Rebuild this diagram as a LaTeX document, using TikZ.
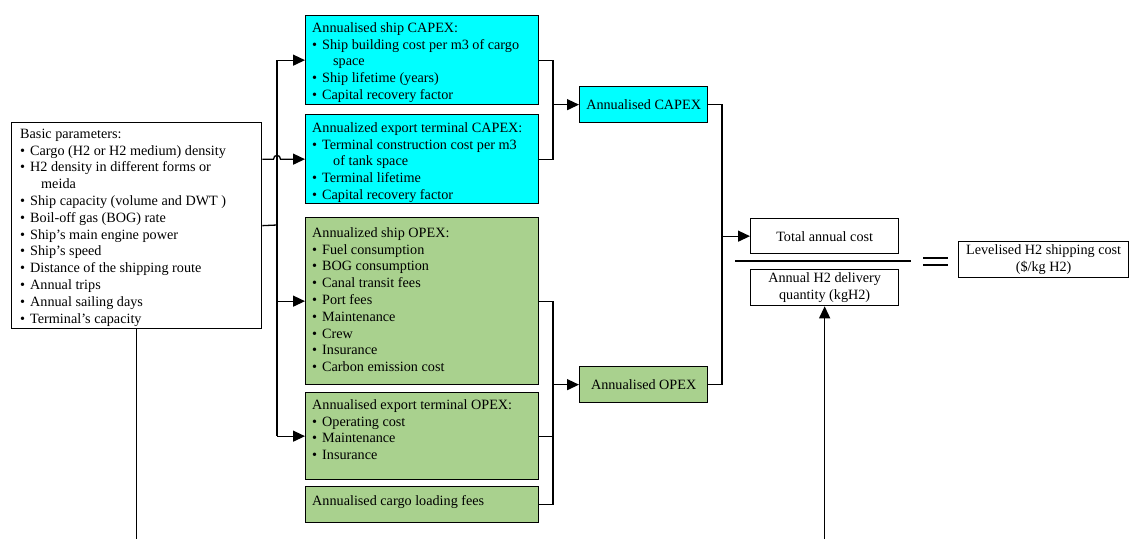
\documentclass[tikz,border=0pt]{standalone}
\usepackage{fontspec}
\setmainfont{Liberation Serif}
\usetikzlibrary{arrows.meta}
\definecolor{capexcol}{RGB}{0,255,255}
\definecolor{opexcol}{RGB}{169,209,142}
\newcommand{\bl}{\makebox[10pt][l]{•}}
\newcommand{\cnt}{\hspace*{21pt}}
\newcommand{\fst}{\rule{0pt}{13pt}}
\begin{document}
\begin{tikzpicture}[x=1pt,y=-1pt,
  box/.style={draw=black, line width=1.3pt, anchor=north west, inner sep=0pt},
  txt/.style={anchor=north west, inner sep=0pt, align=left, font=\fontsize{14.2}{16.8}\selectfont},
  cbox/.style={box, align=center, font=\fontsize{14.2}{16.8}\selectfont},
  conn/.style={line width=1.3pt},
  arr/.style={conn, -{Triangle[length=12pt,width=11pt]}}]
\useasboundingbox (0,0) rectangle (1129,539);

% boxes
\node[box, minimum width=250pt, minimum height=206pt] (basic) at (11,122) {};
\node[txt] (basict) at (20,125) {\fst Basic parameters:\\
\bl Cargo (H2 or H2 medium) density\\
\bl H2 density in different forms or\\
\cnt meida\\
\bl Ship capacity (volume and DWT )\\
\bl Boil-off gas (BOG) rate\\
\bl Ship’s main engine power\\
\bl Ship’s speed\\
\bl Distance of the shipping route\\
\bl Annual trips\\
\bl Annual sailing days\\
\bl Terminal’s capacity};

\node[box, fill=capexcol, minimum width=233pt, minimum height=89pt] (shipcapex) at (305,15) {};
\node[txt] (shipcapext) at (312,19) {\fst Annualised ship CAPEX:\\
\bl Ship building cost per m3 of cargo\\
\cnt space\\
\bl Ship lifetime (years)\\
\bl Capital recovery factor};

\node[box, fill=capexcol, minimum width=233pt, minimum height=89pt] (termcapex) at (305,114) {};
\node[txt] (termcapext) at (312,119) {\fst Annualized export terminal CAPEX:\\
\bl Terminal construction cost per m3\\
\cnt of tank space\\
\bl Terminal lifetime\\
\bl Capital recovery factor};

\node[box, fill=opexcol, minimum width=233pt, minimum height=167pt] (shipopex) at (305,217) {};
\node[txt] (shipopext) at (312,224) {\fst Annualized ship OPEX:\\
\bl Fuel consumption\\
\bl BOG consumption\\
\bl Canal transit fees\\
\bl Port fees\\
\bl Maintenance\\
\bl Crew\\
\bl Insurance\\
\bl Carbon emission cost};

\node[box, fill=opexcol, minimum width=233pt, minimum height=87pt] (termopex) at (305,392) {};
\node[txt] (termopext) at (312,396) {\fst Annualised export terminal OPEX:\\
\bl Operating cost\\
\bl Maintenance\\
\bl Insurance};

\node[box, fill=opexcol, minimum width=233pt, minimum height=36pt] (cargo) at (305,486) {};
\node[txt] (cargot) at (312,492) {\fst Annualised cargo loading fees};

\node[cbox, fill=capexcol, minimum width=128pt, minimum height=36pt] (acapex) at (579,86) {Annualised CAPEX};
\node[cbox, fill=opexcol, minimum width=128pt, minimum height=36pt] (aopex) at (579,366) {Annualised OPEX};
\node[cbox, minimum width=148pt, minimum height=35pt] (total) at (750,218) {Total annual cost};
\node[cbox, minimum width=148pt, minimum height=36pt] (delivery) at (750,269) {Annual H2 delivery\\quantity (kgH2)};
\node[cbox, minimum width=170pt, minimum height=36pt] (lev) at (958,241) {Levelised H2 shipping cost\\(\$/kg H2)};

% left bus
\coordinate (busL) at (277,225);
\draw[conn] (basic.east) -- (busL);
\draw[conn] (busL |- shipcapex.west) -- (busL |- termopex.west);
\draw[arr] (busL |- shipcapex.west) -- (shipcapex.west);
\draw[arr] (busL |- shipopex.west) -- (shipopex.west);
\draw[arr] (busL |- termopex.west) -- (termopex.west);
\draw[arr] (basic.east |- termcapex.west) -- ([xshift=-3.5pt]busL |- termcapex.west)
  .. controls +(0,-5) and +(0,-5) .. ([xshift=3.5pt]busL |- termcapex.west) -- (termcapex.west);

% capex bus
\coordinate (busC) at (553,104);
\draw[conn] (shipcapex.east) -- (busC |- shipcapex.east) -- (busC |- termcapex.east) -- (termcapex.east);
\draw[arr] (busC |- acapex.west) -- (acapex.west);

% opex bus
\coordinate (busO) at (553,384);
\draw[conn] (shipopex.east) -- (busO |- shipopex.east) -- (busO |- cargo.east) -- (cargo.east);
\draw[conn] (termopex.east) -- (busO |- termopex.east);
\draw[arr] (busO |- aopex.west) -- (aopex.west);

% total bus
\coordinate (busT) at (722,236);
\draw[conn] (acapex.east) -- (busT |- acapex.east) -- (busT |- aopex.east) -- (aopex.east);
\draw[arr] (busT |- total.west) -- (total.west);

% fraction line and equals sign
\coordinate (fl) at (735,261);
\coordinate (fr) at (911,261);
\draw[conn] (fl) -- (fr);
\coordinate (e1a) at (923,258); \coordinate (e1b) at (948,258);
\coordinate (e2a) at (923,265); \coordinate (e2b) at (948,265);
\draw[conn] (e1a) -- (e1b);
\draw[conn] (e2a) -- (e2b);

% bottom lines
\coordinate (bot1) at (136,539);
\draw[conn] (basic.south) -- (basic.south |- bot1);
\coordinate (bot2) at (824,539);
\draw[arr] (delivery.south |- bot2) -- (delivery.south);
\end{tikzpicture}
\end{document}
